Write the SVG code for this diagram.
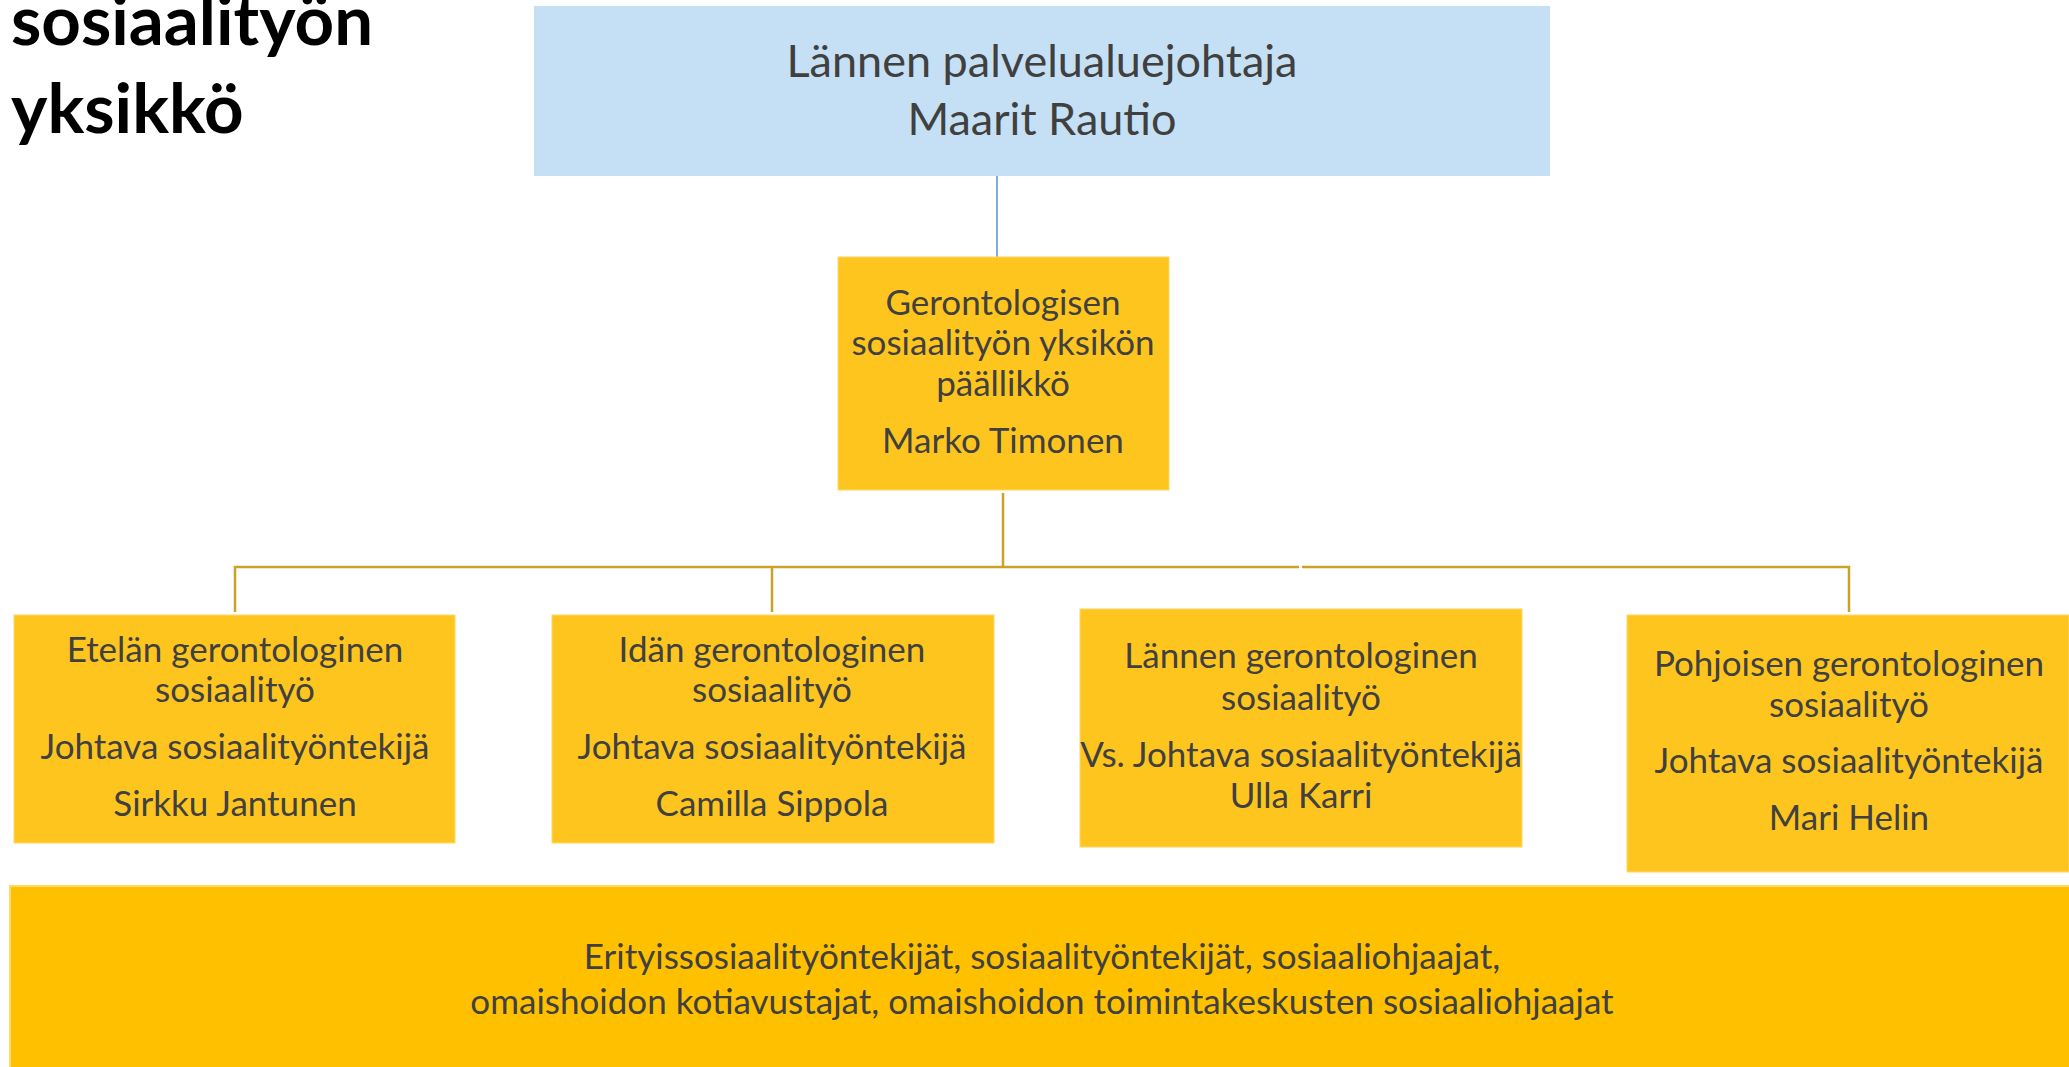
<svg xmlns="http://www.w3.org/2000/svg" width="2069" height="1067" viewBox="0 0 2069 1067">
<style>
.t{font-family:Lato,"Open Sans",sans-serif;fill:#404040;text-anchor:middle}
.m{font-size:35px}
.title{font-family:Lato,"Open Sans",sans-serif;font-weight:bold;font-size:69px;fill:#000}
.box{fill:#FEC51F;stroke:#FFD866;stroke-width:1}
.gold{stroke:#C9A227;stroke-width:2.5;fill:none}
</style>
<rect width="2069" height="1067" fill="#fff"/>
<g id="title">
<text class="title" x="11" y="45">sosiaalityön</text>
<text class="title" x="11" y="133">yksikkö</text>
</g>
<g id="connectors">
<line x1="997" y1="176" x2="997" y2="257" stroke="#5B8FC6" stroke-width="1.5"/>
<line class="gold" x1="1003" y1="493" x2="1003" y2="567"/>
<polyline class="gold" points="235,612 235,567 1299,567"/>
<polyline class="gold" points="1302,567 1849,567 1849,612"/>
<line class="gold" x1="772" y1="567" x2="772" y2="612"/>
</g>
<g id="node-top">
<rect x="534" y="6" width="1016" height="170" fill="#C5E0F4"/>
<text class="t" x="1042" y="77" font-size="45">Lännen palvelualuejohtaja</text>
<text class="t" x="1042" y="135" font-size="45">Maarit Rautio</text>
</g>
<g id="node-head">
<rect class="box" x="838" y="257" width="331" height="233"/>
<text class="t m" x="1003" y="315">Gerontologisen</text>
<text class="t m" x="1003" y="355">sosiaalityön yksikön</text>
<text class="t m" x="1003" y="396">päällikkö</text>
<text class="t m" x="1003" y="453">Marko Timonen</text>
</g>
<g id="node-etela">
<rect class="box" x="14" y="615" width="441" height="228"/>
<text class="t m" x="235" y="662">Etelän gerontologinen</text>
<text class="t m" x="235" y="702">sosiaalityö</text>
<text class="t m" x="235" y="759">Johtava sosiaalityöntekijä</text>
<text class="t m" x="235" y="816">Sirkku Jantunen</text>
</g>
<g id="node-ita">
<rect class="box" x="552" y="615" width="442" height="228"/>
<text class="t m" x="772" y="662">Idän gerontologinen</text>
<text class="t m" x="772" y="702">sosiaalityö</text>
<text class="t m" x="772" y="759">Johtava sosiaalityöntekijä</text>
<text class="t m" x="772" y="816">Camilla Sippola</text>
</g>
<g id="node-lansi">
<rect class="box" x="1080" y="609" width="442" height="238"/>
<text class="t m" x="1301" y="668">Lännen gerontologinen</text>
<text class="t m" x="1301" y="710">sosiaalityö</text>
<text class="t m" x="1301" y="767">Vs. Johtava sosiaalityöntekijä</text>
<text class="t m" x="1301" y="808">Ulla Karri</text>
</g>
<g id="node-pohjoinen">
<rect class="box" x="1627" y="615" width="442" height="257"/>
<text class="t m" x="1849" y="676">Pohjoisen gerontologinen</text>
<text class="t m" x="1849" y="717">sosiaalityö</text>
<text class="t m" x="1849" y="773">Johtava sosiaalityöntekijä</text>
<text class="t m" x="1849" y="830">Mari Helin</text>
</g>
<g id="node-staff">
<rect x="10" y="886" width="2070" height="190" fill="#FFC000" stroke="#FFD866" stroke-width="2"/>
<text class="t m" x="1042" y="969">Erityissosiaalityöntekijät, sosiaalityöntekijät, sosiaaliohjaajat,</text>
<text class="t m" x="1042" y="1014">omaishoidon kotiavustajat, omaishoidon toimintakeskusten sosiaaliohjaajat</text>
</g>
</svg>
